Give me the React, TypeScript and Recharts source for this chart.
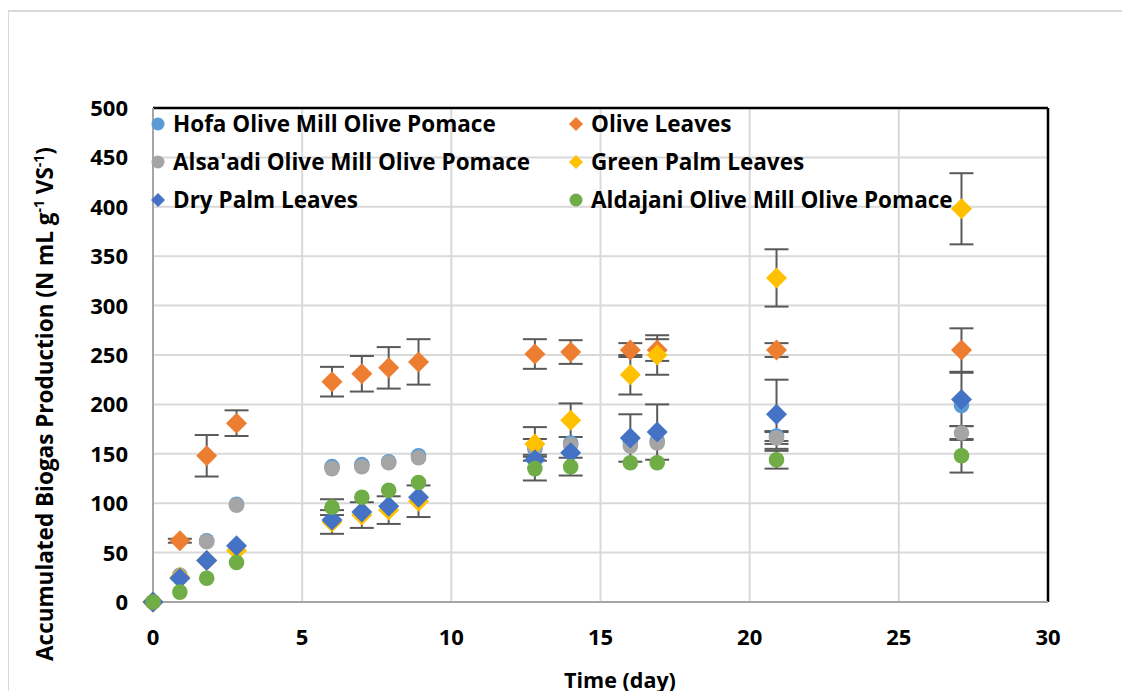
import React from 'react';
import {
  ScatterChart,
  Scatter,
  XAxis,
  YAxis,
  CartesianGrid,
  ErrorBar,
  ReferenceLine,
} from 'recharts';

const days = [0, 0.9, 1.8, 2.8, 6, 7, 7.9, 8.9, 12.8, 14, 16, 16.9, 20.9, 27.1];

const hofa = [0, 27, 62, 99, 137, 139, 142, 148, 155, 161, 162, 163, 168, 199];
const hofaErr = [0, 0, 0, 0, 0, 0, 0, 0, 0, 0, 0, 0, 5, 0];
const oliveLeaves = [0, 62, 148, 181, 223, 231, 237, 243, 251, 253, 255, 255, 255, 255];
const oliveLeavesErr = [0, 2, 21, 13, 15, 18, 21, 23, 15, 12, 7, 11, 7, 22];
const alsaadi = [0, 27, 61, 98, 135, 137, 141, 146, 157, 159, 158, 161, 166, 171];
const alsaadiErr = [0, 0, 0, 0, 0, 0, 0, 0, 8, 0, 0, 0, 6, 7];
const greenPalm = [0, 25, 42, 52, 81, 88, 93, 102, 160, 184, 230, 250, 328, 398];
const greenPalmErr = [0, 0, 0, 0, 12, 13, 14, 16, 17, 17, 20, 20, 29, 36];
const dryPalm = [0, 24, 42, 57, 83, 91, 97, 106, 144, 151, 166, 172, 190, 205];
const dryPalmErr = [0, 0, 0, 0, 0, 0, 0, 0, 0, 0, 24, 28, 35, 27];
const aldajani = [0, 10, 24, 40, 96, 106, 113, 121, 135, 137, 141, 141, 144, 148];
const aldajaniErr = [0, 0, 0, 0, 8, 0, 0, 0, 12, 9, 0, 0, 9, 17];

const xTicks = [0, 5, 10, 15, 20, 25, 30];
const yTicks = [0, 50, 100, 150, 200, 250, 300, 350, 400, 450, 500];

const FONT = "'Open Sans', sans-serif";

const toPoints = (vals: number[], errs: number[]) =>
  days.map((d, i) => ({ x: d, y: vals[i], e: errs[i] }));

type Marker = 'circle' | 'diamond';

const series: { name: string; color: string; marker: Marker; vals: number[]; errs: number[] }[] = [
  { name: 'Hofa Olive Mill Olive Pomace', color: '#5B9BD5', marker: 'circle', vals: hofa, errs: hofaErr },
  { name: 'Olive Leaves', color: '#ED7D31', marker: 'diamond', vals: oliveLeaves, errs: oliveLeavesErr },
  { name: "Alsa'adi Olive Mill Olive Pomace", color: '#A5A5A5', marker: 'circle', vals: alsaadi, errs: alsaadiErr },
  { name: 'Green Palm Leaves', color: '#FFC000', marker: 'diamond', vals: greenPalm, errs: greenPalmErr },
  { name: 'Dry Palm Leaves', color: '#4472C4', marker: 'diamond', vals: dryPalm, errs: dryPalmErr },
  { name: 'Aldajani Olive Mill Olive Pomace', color: '#70AD47', marker: 'circle', vals: aldajani, errs: aldajaniErr },
];

const makeShape = (marker: Marker, color: string) => (props: any) => {
  const { cx, cy } = props;
  if (marker === 'circle') return <circle cx={cx} cy={cy} r={7.8} fill={color} />;
  const r = 10.5;
  return (
    <path
      d={`M${cx},${cy - r}L${cx + r},${cy}L${cx},${cy + r}L${cx - r},${cy}Z`}
      fill={color}
    />
  );
};

const XTick = (props: any) => {
  const { x, y, payload } = props;
  return (
    <text x={x} y={y + 43} textAnchor="middle" fontFamily={FONT} fontWeight={700} fontSize={22} fill="#000">
      {payload.value}
    </text>
  );
};

const YTick = (props: any) => {
  const { x, y, payload } = props;
  return (
    <text x={x - 25} y={y + 8} textAnchor="end" fontFamily={FONT} fontWeight={700} fontSize={22} fill="#000">
      {payload.value}
    </text>
  );
};

const YLabel = () => (
  <text
    x={45}
    y={396}
    transform="rotate(-90, 45, 396)"
    textAnchor="middle"
    fontFamily={FONT}
    fontWeight={700}
    fontSize={22.5}
    fill="#000"
  >
    Accumulated Biogas Production (N mL g
    <tspan dy={-9} fontSize={14}>-1</tspan>
    <tspan dy={9}> VS</tspan>
    <tspan dy={-9} fontSize={14}>-1</tspan>
    <tspan dy={9}>)</tspan>
  </text>
);

const XLabel = () => (
  <text x={612} y={680} textAnchor="middle" fontFamily={FONT} fontWeight={700} fontSize={21.5} fill="#000">
    Time (day)
  </text>
);

const LegendMarker = ({ marker, color }: { marker: Marker; color: string }) => (
  <svg width={16} height={16} style={{ position: 'absolute', left: -8, top: -8 }}>
    {marker === 'circle' ? (
      <circle cx={8} cy={8} r={6.5} fill={color} />
    ) : (
      <path d="M8,1L15,8L8,15L1,8Z" fill={color} />
    )}
  </svg>
);

const legendCols = [150, 568];
const legendRows = [116, 154, 192];

export default function App() {
  return (
    <div style={{ position: 'relative', width: 1122, height: 683, overflow: 'hidden', background: '#fff' }}>
      <div
        style={{
          position: 'absolute',
          left: -1,
          top: 2,
          width: 1140,
          height: 700,
          borderLeft: '2px solid #D9D9D9',
          borderTop: '2px solid #D9D9D9',
        }}
      />
      <ScatterChart width={1122} height={683} margin={{ top: 100, right: 82, bottom: 0, left: 0 }}>
        <CartesianGrid stroke="#D9D9D9" strokeWidth={2} />
        <XAxis
          type="number"
          dataKey="x"
          domain={[0, 30]}
          ticks={xTicks}
          interval={0}
          height={89}
          tickSize={0}
          tickMargin={0}
          tickLine={false}
          axisLine={{ stroke: '#A6A6A6', strokeWidth: 2 }}
          tick={<XTick />}
        />
        <YAxis
          type="number"
          dataKey="y"
          domain={[0, 500]}
          ticks={yTicks}
          interval={0}
          width={145}
          tickSize={0}
          tickMargin={0}
          tickLine={false}
          axisLine={{ stroke: '#A6A6A6', strokeWidth: 2 }}
          tick={<YTick />}
          label={<YLabel />}
        />
        <ReferenceLine y={500} stroke="#000" strokeWidth={2.5} />
        <ReferenceLine x={30} stroke="#000" strokeWidth={2.5} />
        {series.map((s) => (
          <Scatter
            key={s.name}
            name={s.name}
            data={toPoints(s.vals, s.errs)}
            fill={s.color}
            shape={makeShape(s.marker, s.color)}
            isAnimationActive={false}
          >
            <ErrorBar dataKey="e" direction="y" width={12} stroke="#595959" strokeWidth={2} />
          </Scatter>
        ))}
        <XLabel />
      </ScatterChart>
      {series.map((s, i) => {
        const left = legendCols[i % 2];
        const top = legendRows[Math.floor(i / 2)];
        return (
          <div key={s.name} style={{ position: 'absolute', left, top, height: 0 }}>
            <LegendMarker marker={s.marker} color={s.color} />
            <span
              style={{
                position: 'absolute',
                left: 15,
                top: -16,
                whiteSpace: 'nowrap',
                fontFamily: FONT,
                fontWeight: 700,
                fontSize: 22.5,
                lineHeight: '31px',
                color: '#000',
              }}
            >
              {s.name}
            </span>
          </div>
        );
      })}
    </div>
  );
}
